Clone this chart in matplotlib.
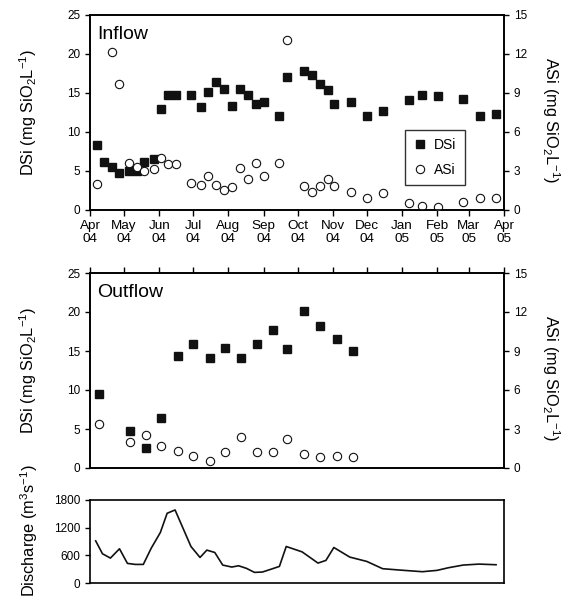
import matplotlib
matplotlib.use("Agg")
import matplotlib.pyplot as plt
import matplotlib.dates as mdates
from matplotlib.lines import Line2D
import numpy as np
import pandas as pd

plt.rcParams['font.family'] = ['Liberation Sans', 'DejaVu Sans']
plt.rcParams['mathtext.fontset'] = 'custom'
plt.rcParams['mathtext.rm'] = 'Liberation Sans'
plt.rcParams['mathtext.it'] = 'Liberation Sans'
plt.rcParams['mathtext.default'] = 'regular'

# ---------------- data ----------------
inflow_dates = ["2004-04-07", "2004-04-13", "2004-04-20", "2004-04-27", "2004-05-05", "2004-05-12",
                "2004-05-19", "2004-05-27", "2004-06-03", "2004-06-09", "2004-06-16", "2004-06-29",
                "2004-07-08", "2004-07-14", "2004-07-21", "2004-07-28", "2004-08-04", "2004-08-11",
                "2004-08-18", "2004-08-25", "2004-09-01", "2004-09-15", "2004-09-22", "2004-10-07",
                "2004-10-14", "2004-10-21", "2004-10-28", "2004-11-02", "2004-11-17", "2004-12-01",
                "2004-12-15", "2005-01-07", "2005-01-19", "2005-02-02", "2005-02-24", "2005-03-11",
                "2005-03-25"]
inflow_dsi = [8.3, 6.2, 5.5, 4.8, 5.0, 5.0, 6.2, 6.6, 13.0, 14.8, 14.7, 14.8, 13.2, 15.1, 16.4,
              15.5, 13.3, 15.5, 14.8, 13.6, 13.8, 12.0, 17.0, 17.8, 17.3, 16.1, 15.4, 13.6, 13.8,
              12.1, 12.7, 14.1, 14.7, 14.6, 14.2, 12.0, 12.3]
inflow_asi = [2.0, np.nan, 12.15, 9.67, 3.59, 3.28, 3.03, 3.13, 3.97, 3.51, 3.51, 2.1, 1.9, 2.59,
              1.9, 1.51, 1.79, 3.2, 2.41, 3.59, 2.59, 3.59, 13.08, 1.82, 1.41, 1.85, 2.41, 1.85,
              1.41, 0.9, 1.33, 0.54, 0.33, 0.26, 0.64, 0.9, 0.9]

outflow_dates = ["2004-04-09", "2004-05-06", "2004-05-20", "2004-06-03", "2004-06-18", "2004-07-01",
                 "2004-07-16", "2004-07-29", "2004-08-12", "2004-08-26", "2004-09-09", "2004-09-22",
                 "2004-10-07", "2004-10-21", "2004-11-05", "2004-11-19"]
outflow_dsi = [9.5, 4.75, 2.6, 6.4, 14.4, 15.85, 14.15, 15.4, 14.15, 15.85, 17.65, 15.3, 20.15,
               18.15, 16.55, 14.95]
outflow_asi = [3.41, 2.02, 2.51, 1.72, 1.33, 0.92, 0.56, 1.23, 2.41, 1.23, 1.23, 2.23, 1.1, 0.82,
               0.92, 0.85]

discharge_dates = ["2004-04-06", "2004-04-12", "2004-04-19", "2004-04-27", "2004-05-04", "2004-05-11",
                   "2004-05-18", "2004-05-25", "2004-06-02", "2004-06-08", "2004-06-15", "2004-06-22",
                   "2004-06-29", "2004-07-07", "2004-07-13", "2004-07-20", "2004-07-27", "2004-08-04",
                   "2004-08-10", "2004-08-17", "2004-08-24", "2004-08-31", "2004-09-08", "2004-09-15",
                   "2004-09-21", "2004-10-05", "2004-10-19", "2004-10-26", "2004-11-02", "2004-11-16",
                   "2004-12-01", "2004-12-15", "2004-12-30", "2005-01-19", "2005-02-01", "2005-02-11",
                   "2005-02-24", "2005-03-10", "2005-03-25"]
discharge = [914, 634, 540, 742, 425, 403, 403, 756, 1094, 1512, 1584, 1188, 792, 554, 713, 662,
             389, 346, 374, 317, 230, 238, 302, 360, 792, 675, 432, 490, 770, 562, 468, 310, 281,
             245, 274, 331, 389, 410, 396]

month_ticks = pd.date_range("2004-04-01", "2005-04-01", freq="MS")
x_start, x_end = pd.Timestamp("2004-04-01"), pd.Timestamp("2005-04-01")

# ---------------- figure ----------------
W, H = 568, 599
fig = plt.figure(figsize=(W / 100, H / 100), dpi=100)

def frac(l, t, r, b):
    return [l / W, 1 - b / H, (r - l) / W, (b - t) / H]

ax1 = fig.add_axes(frac(90, 15, 504, 210))
ax2 = fig.add_axes(frac(90, 273, 504, 468))
ax3 = fig.add_axes(frac(90, 500, 504, 583))

spine_lw = 1.2
tick_kw = dict(direction='out', length=3.5, width=1.0, labelsize=8.5, colors='black')

sq_kw = dict(linestyle='none', marker='s', ms=6.4, color='#111111', mec='#111111')
ci_kw = dict(linestyle='none', marker='o', ms=6.0, mfc='white', mec='#111111', mew=0.8)

def setup_conc(ax, dsi_dates, dsi, asi, title):
    d = pd.to_datetime(dsi_dates)
    ax.plot(d, dsi, **sq_kw)
    ax.set_ylim(0, 25)
    ax.set_yticks([0, 5, 10, 15, 20, 25])
    ax.set_xlim(x_start, x_end)
    ax.set_xticks(month_ticks)
    for s in ax.spines.values():
        s.set_linewidth(spine_lw)
    ax.tick_params(axis='y', **tick_kw)
    axr = ax.twinx()
    axr.plot(d, asi, **ci_kw)
    axr.set_ylim(0, 15)
    axr.set_yticks([0, 3, 6, 9, 12, 15])
    axr.tick_params(axis='y', **tick_kw)
    for s in axr.spines.values():
        s.set_linewidth(spine_lw)
    ax.text(0.017, 0.90, title, transform=ax.transAxes, fontsize=14, va='center', ha='left')
    return axr

ax1r = setup_conc(ax1, inflow_dates, inflow_dsi, inflow_asi, "Inflow")
ax1.xaxis.set_major_formatter(mdates.DateFormatter("%b\n%y"))
ax1.tick_params(axis='x', direction='out', length=4, width=1.0, labelsize=9.7, pad=3)
for lab in ax1.get_xticklabels():
    lab.set_linespacing(1.15)

ax2r = setup_conc(ax2, outflow_dates, outflow_dsi, outflow_asi, "Outflow")
ax2.xaxis.set_ticks_position('top')
ax2.tick_params(axis='x', direction='out', length=4, width=1.0, labeltop=False, labelbottom=False)

# legend (inflow)
handles = [Line2D([], [], **sq_kw), Line2D([], [], **ci_kw)]
leg = ax1r.legend(handles, ["DSi", "ASi"], loc='upper left',
                  bbox_to_anchor=((405 - 90) / 414, (210 - 130) / 195),
                  borderaxespad=0, fontsize=10, frameon=True, fancybox=False,
                  handlelength=1.0, handletextpad=0.5, labelspacing=0.75, borderpad=0.6)
leg.get_frame().set_edgecolor('black')
leg.get_frame().set_linewidth(1.0)

# discharge
ax3.plot(pd.to_datetime(discharge_dates), discharge, color='#111111', lw=1.2)
ax3.set_xlim(x_start, x_end)
ax3.set_ylim(0, 1800)
ax3.set_yticks([0, 600, 1200, 1800])
ax3.set_xticks([])
ax3.tick_params(axis='y', **tick_kw)
for s in ax3.spines.values():
    s.set_linewidth(spine_lw)

# axis labels
lab_fs = 11.8
dsi_label = "DSi (mg SiO$_2$L$^{-1}$)"
asi_label = "ASi (mg SiO$_2$L$^{-1}$)"
fig.text(28 / W, 1 - 112 / H, dsi_label, rotation=90, ha='center', va='center', fontsize=lab_fs)
fig.text(28 / W, 1 - 370 / H, dsi_label, rotation=90, ha='center', va='center', fontsize=lab_fs)
fig.text(551 / W, 1 - 120 / H, asi_label, rotation=-90, ha='center', va='center', fontsize=lab_fs)
fig.text(551 / W, 1 - 378 / H, asi_label, rotation=-90, ha='center', va='center', fontsize=lab_fs)
fig.text(29 / W, 1 - 531 / H, "Discharge (m$^3$s$^{-1}$)", rotation=90, ha='center', va='center',
         fontsize=lab_fs)

fig.savefig("out.png", dpi=100)
